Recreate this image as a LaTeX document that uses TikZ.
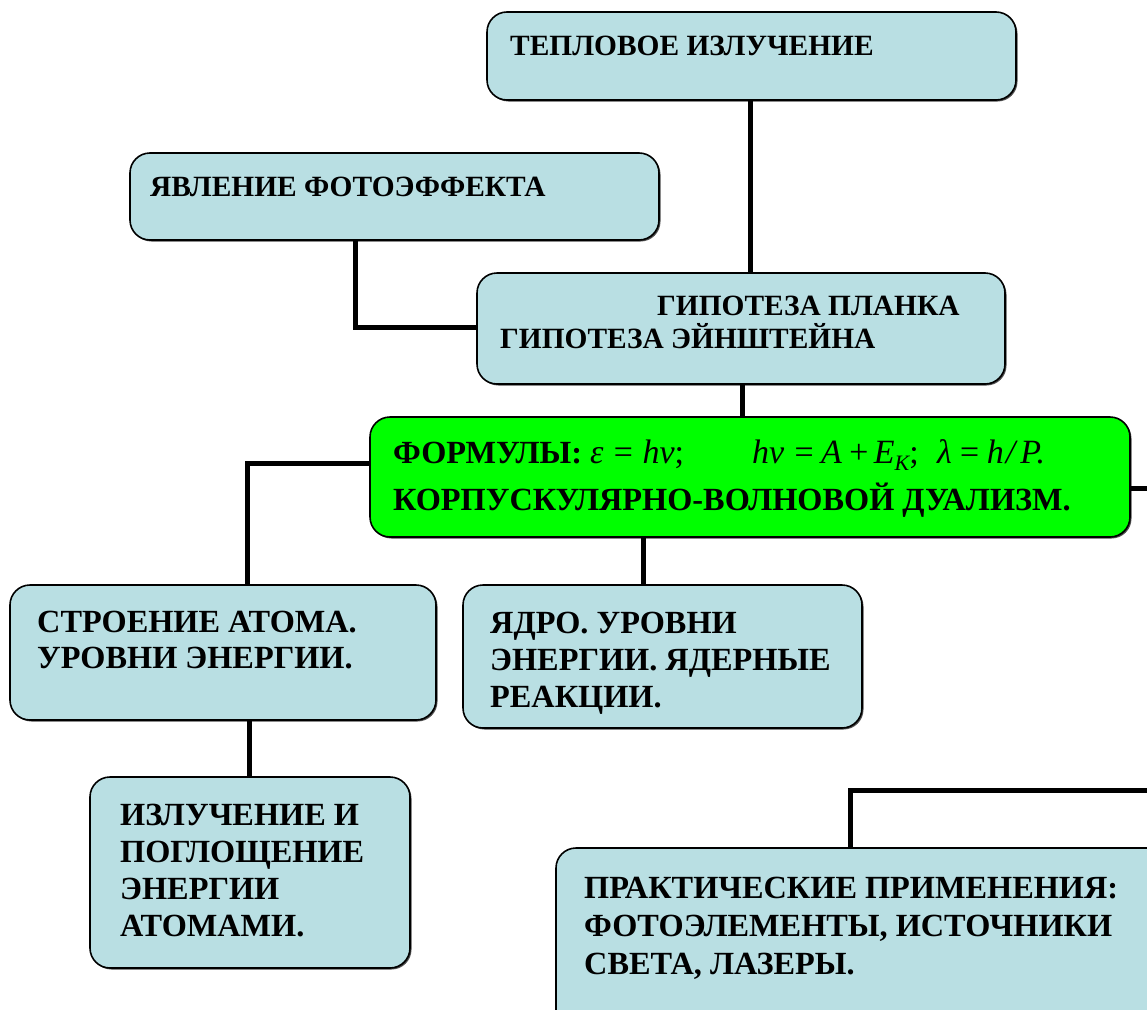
\documentclass[tikz,border=0pt]{standalone}
\usepackage{fontspec}
\setmainfont{Liberation Serif}
\usetikzlibrary{shadows}
\definecolor{boxblue}{HTML}{B9DFE3}
\definecolor{boxgreen}{HTML}{00FF00}
\newcommand{\subK}{\raisebox{-7pt}{\fontsize{22}{22}\selectfont K}}
\begin{document}
\begin{tikzpicture}[x=1pt,y=-1pt,
  box/.style={draw=black,line width=1.6pt,rounded corners=20pt,fill=boxblue,
    drop shadow={shadow xshift=1.5pt,shadow yshift=-1.5pt,fill=black!70,opacity=1}},
  conn/.style={line width=5pt,black},
  txt/.style={anchor=base west,inner sep=0pt,font=\fontsize{32.3}{37}\selectfont\bfseries},
  txtsm/.style={anchor=base west,inner sep=0pt,font=\fontsize{29.4}{34}\selectfont\bfseries},
  mth/.style={anchor=base west,inner sep=0pt,font=\fontsize{34}{37}\selectfont\itshape}]
\useasboundingbox (0,0) rectangle (1147,1009);
\clip (0,0) rectangle (1147,1009);
% boxes
\path[box] (487,12) rectangle (1016,100);
\coordinate (b1s) at (750,100);
\path[box] (130,153) rectangle (659,240);
\coordinate (b2s) at (355,240);
\path[box] (477,273) rectangle (1005,384);
\coordinate (b3n) at (750,273);
\coordinate (b3w) at (477,327);
\coordinate (b3s) at (742,384);
\path[box,fill=boxgreen] (370,417) rectangle (1130,537);
\coordinate (gn) at (742,417);
\coordinate (gw) at (370,463);
\coordinate (gs) at (643,537);
\coordinate (ge) at (1130,488);
\path[box] (10,585) rectangle (436,720);
\coordinate (b5n) at (247,585);
\coordinate (b5s) at (249,720);
\path[box] (463,585) rectangle (862,728);
\coordinate (b6n) at (643,585);
\path[box] (90,777) rectangle (410,968);
\coordinate (b7n) at (249,777);
\path[box] (556,848) rectangle (1190,1050);
\coordinate (b8n) at (850,848);
\coordinate (edgeA) at (1147,488);
\coordinate (edgeB) at (1147,790);
% connectors
\draw[conn] (b1s) -- (b3n);
\draw[conn] (b2s) |- (b3w);
\draw[conn] (b3s) -- (gn);
\draw[conn] (gw) -| (b5n);
\draw[conn] (gs) -- (b6n);
\draw[conn] (ge) -- (edgeA);
\draw[conn] (b5s) -- (b7n);
\draw[conn] (b8n) |- (edgeB);
% texts
\node[txtsm] (t1) at (510,55) {ТЕПЛОВОЕ ИЗЛУЧЕНИЕ};
\node[txtsm] (t2) at (150,196) {ЯВЛЕНИЕ ФОТОЭФФЕКТА};
\node[txtsm] (t3a) at (657,315) {ГИПОТЕЗА ПЛАНКА};
\node[txtsm] (t3b) at (500,348) {ГИПОТЕЗА ЭЙНШТЕЙНА};
\node[txt] (t4a) at (393,463) {ФОРМУЛЫ:};
\node[mth] (f1) at (590,463) {ε\hspace{8pt}=\hspace{8pt}hν\upshape;};
\node[mth] (f2) at (752,463) {hν\hspace{8pt}=\hspace{6pt}A\hspace{5pt}+\hspace{4pt}E\subK\upshape;};
\node[mth] (f3) at (937,463) {λ\hspace{6pt}=\hspace{6pt}h\hspace{2pt}/\hspace{5pt}P.};
\node[txt] (t4b) at (393,510) {КОРПУСКУЛЯРНО-ВОЛНОВОЙ ДУАЛИЗМ.};
\node[txt] (t5a) at (37,632) {СТРОЕНИЕ АТОМА.};
\node[txt] (t5b) at (37,668) {УРОВНИ ЭНЕРГИИ.};
\node[txt] (t6a) at (490,633) {ЯДРО. УРОВНИ};
\node[txt] (t6b) at (490,670) {ЭНЕРГИИ. ЯДЕРНЫЕ};
\node[txt] (t6c) at (490,707) {РЕАКЦИИ.};
\node[txt] (t7a) at (120,825) {ИЗЛУЧЕНИЕ И};
\node[txt] (t7b) at (120,862) {ПОГЛОЩЕНИЕ};
\node[txt] (t7c) at (120,899) {ЭНЕРГИИ};
\node[txt] (t7d) at (120,936) {АТОМАМИ.};
\node[txt] (t8a) at (584,898) {ПРАКТИЧЕСКИЕ ПРИМЕНЕНИЯ:};
\node[txt] (t8b) at (584,936) {ФОТОЭЛЕМЕНТЫ, ИСТОЧНИКИ};
\node[txt] (t8c) at (584,974) {СВЕТА, ЛАЗЕРЫ.};
\end{tikzpicture}
\end{document}
